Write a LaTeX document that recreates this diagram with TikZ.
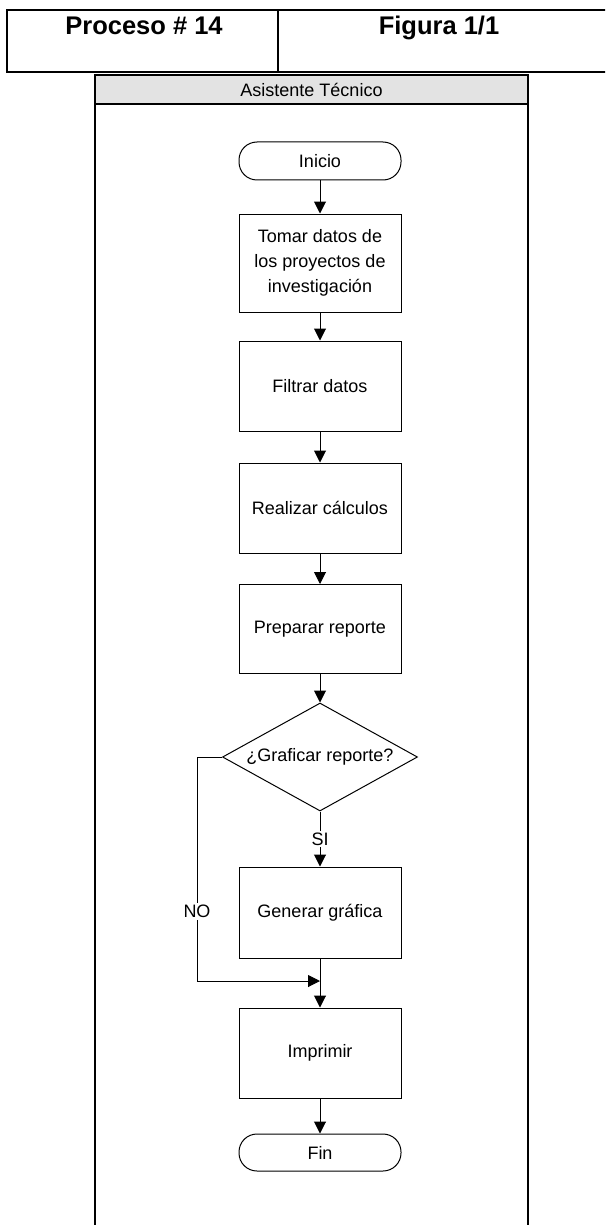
\documentclass[tikz,border=0pt]{standalone}
\usepackage{fontspec}
\setmainfont{Liberation Sans}
\usetikzlibrary{arrows.meta,shapes.geometric}
\begin{document}
\begin{tikzpicture}[x=1pt,y=-1pt,
  txt/.style={font=\fontsize{18}{25}\selectfont, inner sep=0pt},
  procbox/.style={txt, draw=black, line width=1pt, rectangle, minimum width=162pt, align=center},
  term/.style={procbox, rounded corners=18pt},
  decis/.style={txt, draw=black, line width=1pt, diamond, aspect=1.8, minimum width=195pt, minimum height=108pt},
  conn/.style={draw=black, line width=1pt},
  arr/.style={conn, -{Triangle[length=12pt,width=12pt]}},
  lbl/.style={txt, fill=white, inner sep=2pt},
  hdr/.style={font=\fontsize{25.5}{30}\selectfont\bfseries, inner sep=0pt, anchor=base},
  thick line/.style={draw=black, line width=2pt}
]
\useasboundingbox (0,0) rectangle (605,1225);
\clip (0,0) rectangle (605,1225);
% header table
\draw[thick line] (610,10) -- (7,10) -- (7,72) -- (610,72);
\draw[thick line] (278,10) -- (278,72);
\node[hdr] (proc) at (144,35) {Proceso \# 14};
\node[hdr] (fig) at (439,35) {Figura 1/1};
% pool
\draw[line width=1.5pt, fill=black!11] (95,104) rectangle (528,75);
\draw[line width=1.5pt] (95,104) -- (95,1230);
\draw[line width=1.5pt] (528,104) -- (528,1230);
\node[txt] (pool) at (311.5,89.5) {Asistente Técnico};
% nodes
\node[term, minimum height=38pt] (start) at (320,161) {Inicio};
\node[procbox, minimum height=98pt] (tomar) at (320,263) {Tomar datos de\\los proyectos de\\investigación};
\node[procbox, minimum height=90pt] (filtrar) at (320,386) {Filtrar datos};
\node[procbox, minimum height=90pt] (realizar) at (320,508) {Realizar cálculos};
\node[procbox, minimum height=89pt] (preparar) at (320,629) {Preparar reporte};
\node[decis] (dec) at (320,757) {¿Graficar reporte?};
\node[procbox, minimum height=91pt] (generar) at (320,912.5) {Generar gráfica};
\node[procbox, minimum height=90pt] (imprimir) at (320,1053) {Imprimir};
\node[term, minimum height=37pt] (fin) at (320,1152.5) {Fin};
\coordinate (noturn) at (197,757);
\coordinate (nodown) at (197,981);
\coordinate (merge) at (320,981);
% connectors
\draw[arr] (start) -- (tomar);
\draw[arr] (tomar) -- (filtrar);
\draw[arr] (filtrar) -- (realizar);
\draw[arr] (realizar) -- (preparar);
\draw[arr] (preparar) -- (dec);
\draw[arr] (dec.south) -- node[lbl] (si) {SI} (generar.north);
\draw[arr] (dec.west) -- (noturn) -- node[lbl, pos=0.69] (no) {NO} (nodown) -- (merge);
\draw[arr] (generar) -- (imprimir);
\draw[arr] (imprimir) -- (fin);
\end{tikzpicture}
\end{document}
